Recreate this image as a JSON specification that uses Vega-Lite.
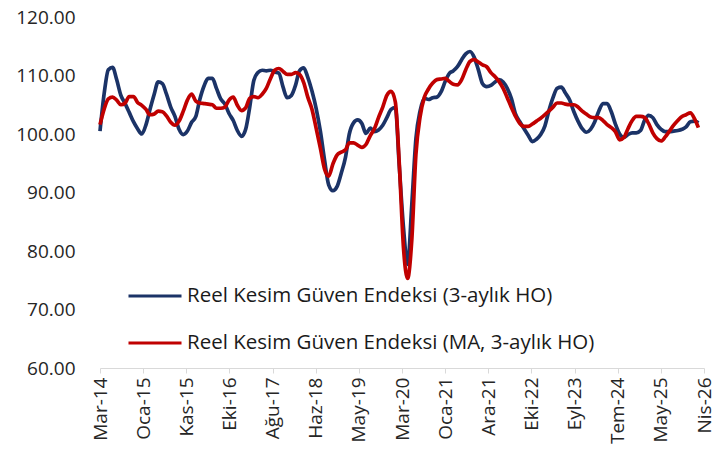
{
  "$schema": "https://vega.github.io/schema/vega-lite/v6.json",
  "width": 604,
  "height": 351,
  "autosize": "none",
  "padding": {"left": 100, "top": 17, "right": 17, "bottom": 87},
  "background": "white",
  "config": {"view": {"stroke": null}, "font": "Open Sans"},
  "data": {"values": [
    {"d":"2014-03-01","a":100.5,"b":101.6},{"d":"2014-04-01","a":107.0,"b":104.3},{"d":"2014-05-01","a":111.0,"b":106.0},{"d":"2014-06-01","a":111.4,"b":106.3},{"d":"2014-07-01","a":109.3,"b":105.8},{"d":"2014-08-01","a":106.6,"b":105.0},{"d":"2014-09-01","a":105.2,"b":105.3},{"d":"2014-10-01","a":103.7,"b":106.4},{"d":"2014-11-01","a":102.1,"b":106.4},{"d":"2014-12-01","a":100.9,"b":105.4},
    {"d":"2015-01-01","a":100.0,"b":104.9},{"d":"2015-02-01","a":101.6,"b":104.2},{"d":"2015-03-01","a":104.1,"b":103.3},{"d":"2015-04-01","a":106.7,"b":103.4},{"d":"2015-05-01","a":108.9,"b":103.9},{"d":"2015-06-01","a":108.6,"b":103.8},{"d":"2015-07-01","a":106.8,"b":103.1},{"d":"2015-08-01","a":104.6,"b":102.0},{"d":"2015-09-01","a":103.0,"b":101.5},{"d":"2015-10-01","a":100.8,"b":102.2},{"d":"2015-11-01","a":99.9,"b":103.9},{"d":"2015-12-01","a":100.5,"b":105.8},
    {"d":"2016-01-01","a":102.0,"b":106.8},{"d":"2016-02-01","a":103.0,"b":105.6},{"d":"2016-03-01","a":105.9,"b":105.3},{"d":"2016-04-01","a":108.2,"b":105.2},{"d":"2016-05-01","a":109.5,"b":105.1},{"d":"2016-06-01","a":109.5,"b":105.0},{"d":"2016-07-01","a":107.8,"b":104.4},{"d":"2016-08-01","a":106.0,"b":104.4},{"d":"2016-09-01","a":105.1,"b":104.6},{"d":"2016-10-01","a":103.5,"b":105.8},{"d":"2016-11-01","a":102.3,"b":106.3},{"d":"2016-12-01","a":100.6,"b":104.9},
    {"d":"2017-01-01","a":99.6,"b":104.0},{"d":"2017-02-01","a":100.9,"b":104.5},{"d":"2017-03-01","a":104.5,"b":106.1},{"d":"2017-04-01","a":109.2,"b":106.4},{"d":"2017-05-01","a":110.5,"b":106.2},{"d":"2017-06-01","a":110.9,"b":106.8},{"d":"2017-07-01","a":110.8,"b":107.8},{"d":"2017-08-01","a":110.9,"b":109.5},{"d":"2017-09-01","a":110.6,"b":110.9},{"d":"2017-10-01","a":110.4,"b":111.2},{"d":"2017-11-01","a":108.0,"b":110.7},{"d":"2017-12-01","a":106.2,"b":110.2},
    {"d":"2018-01-01","a":106.6,"b":110.2},{"d":"2018-02-01","a":108.4,"b":110.5},{"d":"2018-03-01","a":110.8,"b":110.2},{"d":"2018-04-01","a":111.3,"b":108.8},{"d":"2018-05-01","a":109.7,"b":106.3},{"d":"2018-06-01","a":107.3,"b":104.2},{"d":"2018-07-01","a":104.4,"b":101.0},{"d":"2018-08-01","a":100.5,"b":97.6},{"d":"2018-09-01","a":95.5,"b":94.0},{"d":"2018-10-01","a":91.3,"b":92.8},{"d":"2018-11-01","a":90.3,"b":94.9},{"d":"2018-12-01","a":91.0,"b":96.4},
    {"d":"2019-01-01","a":93.3,"b":96.9},{"d":"2019-02-01","a":96.0,"b":97.3},{"d":"2019-03-01","a":100.0,"b":98.5},{"d":"2019-04-01","a":101.9,"b":98.5},{"d":"2019-05-01","a":102.4,"b":98.1},{"d":"2019-06-01","a":101.8,"b":97.7},{"d":"2019-07-01","a":100.1,"b":98.2},{"d":"2019-08-01","a":101.0,"b":99.7},{"d":"2019-09-01","a":100.4,"b":100.9},{"d":"2019-10-01","a":100.7,"b":102.8},{"d":"2019-11-01","a":101.5,"b":104.6},{"d":"2019-12-01","a":102.8,"b":106.6},
    {"d":"2020-01-01","a":104.2,"b":107.3},{"d":"2020-02-01","a":104.5,"b":105.5},{"d":"2020-03-01","a":94.5,"b":95.0},{"d":"2020-04-01","a":84.0,"b":80.5},{"d":"2020-05-01","a":77.7,"b":75.3},{"d":"2020-06-01","a":88.0,"b":82.0},{"d":"2020-07-01","a":99.2,"b":96.5},{"d":"2020-08-01","a":104.0,"b":103.0},{"d":"2020-09-01","a":106.1,"b":106.3},{"d":"2020-10-01","a":105.9,"b":107.7},{"d":"2020-11-01","a":106.2,"b":108.7},{"d":"2020-12-01","a":106.3,"b":109.3},
    {"d":"2021-01-01","a":107.2,"b":109.4},{"d":"2021-02-01","a":109.0,"b":109.5},{"d":"2021-03-01","a":110.3,"b":109.0},{"d":"2021-04-01","a":110.8,"b":108.5},{"d":"2021-05-01","a":111.5,"b":108.4},{"d":"2021-06-01","a":112.7,"b":109.3},{"d":"2021-07-01","a":113.7,"b":111.0},{"d":"2021-08-01","a":114.1,"b":112.4},{"d":"2021-09-01","a":113.1,"b":112.7},{"d":"2021-10-01","a":111.0,"b":112.3},{"d":"2021-11-01","a":108.6,"b":111.8},{"d":"2021-12-01","a":108.1,"b":111.5},
    {"d":"2022-01-01","a":108.3,"b":110.5},{"d":"2022-02-01","a":108.9,"b":109.8},{"d":"2022-03-01","a":109.3,"b":109.0},{"d":"2022-04-01","a":108.9,"b":107.8},{"d":"2022-05-01","a":107.8,"b":106.2},{"d":"2022-06-01","a":106.0,"b":104.5},{"d":"2022-07-01","a":103.4,"b":103.0},{"d":"2022-08-01","a":102.1,"b":101.8},{"d":"2022-09-01","a":100.9,"b":101.3},{"d":"2022-10-01","a":99.8,"b":101.3},{"d":"2022-11-01","a":98.7,"b":101.7},{"d":"2022-12-01","a":99.1,"b":102.2},
    {"d":"2023-01-01","a":99.9,"b":102.7},{"d":"2023-02-01","a":101.4,"b":103.3},{"d":"2023-03-01","a":103.9,"b":103.9},{"d":"2023-04-01","a":106.2,"b":104.6},{"d":"2023-05-01","a":107.8,"b":105.3},{"d":"2023-06-01","a":108.0,"b":105.3},{"d":"2023-07-01","a":107.0,"b":105.1},{"d":"2023-08-01","a":105.8,"b":105.0},{"d":"2023-09-01","a":103.8,"b":105.0},{"d":"2023-10-01","a":102.2,"b":104.6},{"d":"2023-11-01","a":100.9,"b":103.9},{"d":"2023-12-01","a":100.3,"b":103.4},
    {"d":"2024-01-01","a":100.8,"b":102.9},{"d":"2024-02-01","a":102.1,"b":102.8},{"d":"2024-03-01","a":103.9,"b":102.8},{"d":"2024-04-01","a":105.2,"b":102.3},{"d":"2024-05-01","a":105.2,"b":101.6},{"d":"2024-06-01","a":103.8,"b":101.1},{"d":"2024-07-01","a":101.7,"b":100.4},{"d":"2024-08-01","a":100.0,"b":99.0},{"d":"2024-09-01","a":99.4,"b":99.4},{"d":"2024-10-01","a":99.9,"b":100.9},{"d":"2024-11-01","a":100.2,"b":102.3},{"d":"2024-12-01","a":100.2,"b":103.0},
    {"d":"2025-01-01","a":100.6,"b":103.0},{"d":"2025-02-01","a":102.4,"b":102.8},{"d":"2025-03-01","a":103.2,"b":101.8},{"d":"2025-04-01","a":102.8,"b":100.2},{"d":"2025-05-01","a":101.6,"b":99.2},{"d":"2025-06-01","a":100.8,"b":98.8},{"d":"2025-07-01","a":100.4,"b":99.5},{"d":"2025-08-01","a":100.4,"b":100.5},{"d":"2025-09-01","a":100.5,"b":101.5},{"d":"2025-10-01","a":100.6,"b":102.3},{"d":"2025-11-01","a":100.8,"b":103.0},{"d":"2025-12-01","a":101.2,"b":103.3},
    {"d":"2026-01-01","a":102.1,"b":103.6},{"d":"2026-02-01","a":102.2,"b":102.6},{"d":"2026-03-01","a":101.9,"b":101.1}
  ]},
  "transform": [{"fold": ["a", "b"], "as": ["s", "v"]}],
  "mark": {"type": "line", "strokeWidth": 3.7, "interpolate": "monotone"},
  "encoding": {
    "x": {
      "field": "d", "type": "temporal",
      "scale": {"type": "utc", "domain": [1393632000000, 1775865600000]},
      "axis": {
        "title": null,
        "values": [1393632000000,1420934400000,1448236800000,1475539200000,1502841600000,1530144000000,1557446400000,1584748800000,1612051200000,1639353600000,1666656000000,1693958400000,1721260800000,1748563200000,1775865600000],
        "labelExpr": "['Oca','Şub','Mar','Nis','May','Haz','Tem','Ağu','Eyl','Eki','Kas','Ara'][utcmonth(datum.value)] + '-' + utcFormat(datum.value, '%y')",
        "labelAngle": -90,
        "labelFontSize": 19,
        "labelColor": "#262626",
        "labelPadding": 4,
        "labelOverlap": false,
        "labelFlush": false,
        "domainColor": "#d9d9d9",
        "tickColor": "#d9d9d9",
        "tickSize": 5,
        "grid": false
      }
    },
    "y": {
      "field": "v", "type": "quantitative",
      "scale": {"domain": [60, 120], "nice": false, "zero": false},
      "axis": {
        "title": null,
        "values": [60, 70, 80, 90, 100, 110, 120],
        "format": ".2f",
        "labelFontSize": 19,
        "labelColor": "#262626",
        "labelPadding": 25,
        "ticks": false,
        "tickSize": 0,
        "domain": false,
        "grid": false
      }
    },
    "color": {
      "field": "s", "type": "nominal",
      "scale": {"domain": ["a", "b"], "range": ["#1B3367", "#C00000"]},
      "legend": {
        "title": null,
        "orient": "none",
        "legendX": 33,
        "legendY": 257,
        "direction": "vertical",
        "symbolType": "M-1.3,0H1.3",
        "symbolSize": 1663,
        "symbolStrokeWidth": 3,
        "labelOffset": 10,
        "labelFontSize": 20.5,
        "labelColor": "#1a1a1a",
        "labelLimit": 600,
        "rowPadding": 14,
        "padding": 0,
        "labelExpr": "datum.label == 'a' ? 'Reel Kesim Güven Endeksi (3-aylık HO)' : 'Reel Kesim Güven Endeksi (MA, 3-aylık HO)'"
      }
    }
  }
}
